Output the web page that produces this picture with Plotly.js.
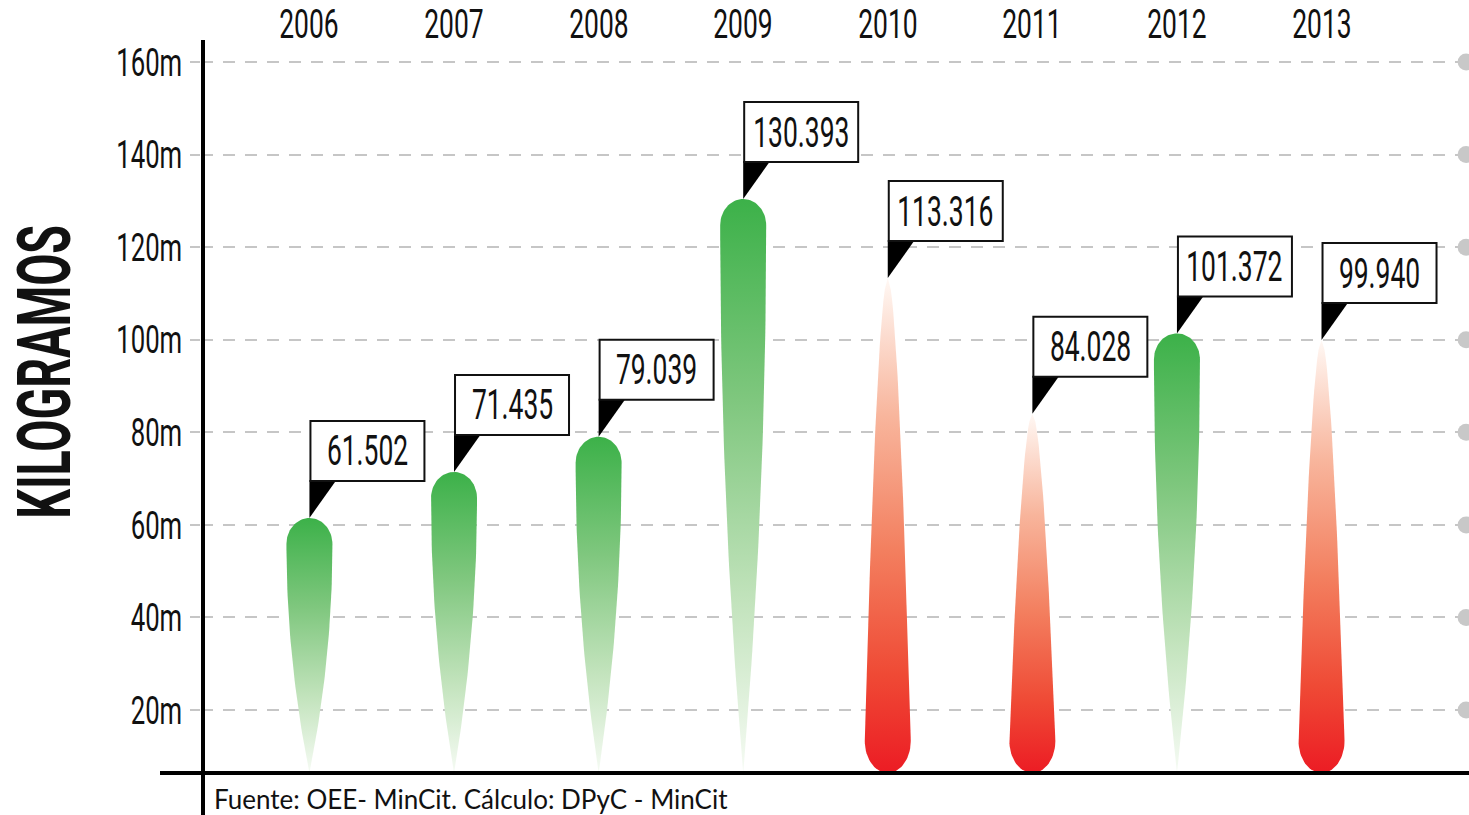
<!DOCTYPE html>
<html>
<head>
<meta charset="utf-8">
<script src="https://cdn.plot.ly/plotly-3.0.1.min.js"></script>
<style>
html, body { margin: 0; padding: 0; background: #ffffff; }
#chart { width: 1469px; height: 815px; }
</style>
</head>
<body>
<div id="chart"></div>
<script>
// ---- data ----
const years = ['2006', '2007', '2008', '2009', '2010', '2011', '2012', '2013'];
const values = [61.502, 71.435, 79.039, 130.393, 113.316, 84.028, 101.372, 99.940]; // millones de kg
const yTickVals = [20, 40, 60, 80, 100, 120, 140, 160];
const yTickSuffix = 'm';
const yTitle = 'KILOGRAMOS';
const sourceText = 'Fuente: OEE- MinCit. Cálculo: DPyC - MinCit';

// ---- layout constants ----
const W = 1469, H = 815;
const M = { l: 201, r: 0, t: 40, b: 42 };
const X_RANGE = [-0.75, 8.02];
const Y_RANGE = [6.4, 164.75];
const plotW = W - M.l - M.r, plotH = H - M.t - M.b;
const dxPx = (X_RANGE[1] - X_RANGE[0]) / plotW;
const dyPx = (Y_RANGE[1] - Y_RANGE[0]) / plotH;
const BASE = Y_RANGE[0];
const FONT = 'Roboto, "Noto Sans", sans-serif';
const SRC_FONT = 'Lato, "Noto Sans", sans-serif';

const GREEN_SCALE = [[0, '#f6fbf4'], [0.3, '#c2e3bc'], [0.65, '#7fc77e'], [1, '#3cb149']];
const RED_SCALE = [[0, '#ec1c24'], [0.2, '#ef4a35'], [0.45, '#f37f5f'], [0.72, '#f8b59c'], [1, '#fff8f4']];

const R = 23;       // half width in px
const N = 40;

function greenDrop(i, v) {
  const Hc = 26;
  const capY = v - Hc * dyPx;
  const xs = [], ys = [];
  for (let k = 0; k <= N; k++) {
    const t = k / N;
    const hw = R * (1 - Math.pow(1 - t, 2));
    xs.push(i - hw * dxPx); ys.push(BASE + t * (capY - BASE));
  }
  for (let k = 1; k < N; k++) {
    const th = Math.PI - Math.PI * k / N;
    xs.push(i + R * Math.cos(th) * dxPx); ys.push(capY + Hc * Math.sin(th) * dyPx);
  }
  for (let k = N; k >= 0; k--) {
    const t = k / N;
    const hw = R * (1 - Math.pow(1 - t, 2));
    xs.push(i + hw * dxPx); ys.push(BASE + t * (capY - BASE));
  }
  return { xs, ys };
}

function redDrop(i, v) {
  const Hc = 32;
  const capY = BASE + Hc * dyPx;
  const xs = [], ys = [];
  for (let k = 0; k <= N; k++) {
    const t = k / N;
    const hw = R * Math.pow(t, 0.55);
    xs.push(i - hw * dxPx); ys.push(v + t * (capY - v));
  }
  for (let k = 1; k < N; k++) {
    const th = Math.PI + Math.PI * k / N;
    xs.push(i + R * Math.cos(th) * dxPx); ys.push(capY + Hc * Math.sin(th) * dyPx);
  }
  for (let k = N; k >= 0; k--) {
    const t = k / N;
    const hw = R * Math.pow(t, 0.55);
    xs.push(i + hw * dxPx); ys.push(v + t * (capY - v));
  }
  return { xs, ys };
}

const traces = [];
const shapes = [];
const annotations = [];
const condenseFactors = [];   // per annotation

values.forEach((v, i) => {
  const up = i === 0 || v >= values[i - 1];
  const d = up ? greenDrop(i, v) : redDrop(i, v);
  traces.push({
    type: 'scatter', mode: 'lines', x: d.xs, y: d.ys,
    fill: 'toself',
    fillcolor: up ? '#6cc06d' : '#f27a5c',
    fillgradient: { type: 'vertical', colorscale: up ? GREEN_SCALE : RED_SCALE },
    line: { width: 0, color: 'rgba(0,0,0,0)' },
    hoverinfo: 'skip', showlegend: false
  });
  // callout pointer
  shapes.push({
    type: 'path', xref: 'x', yref: 'y',
    xsizemode: 'pixel', ysizemode: 'pixel', xanchor: i, yanchor: v,
    path: 'M 0 0 L 0 38 L 27 38 Z',
    fillcolor: '#000000', line: { width: 0 }, layer: 'above'
  });
  // callout box
  shapes.push({
    type: 'rect', xref: 'x', yref: 'y',
    xsizemode: 'pixel', ysizemode: 'pixel', xanchor: i, yanchor: v,
    x0: 1, x1: 115, y0: 37, y1: 97,
    fillcolor: '#ffffff', line: { width: 2, color: '#111111' }, layer: 'above'
  });
  // callout text
  annotations.push({
    x: i, y: v, xref: 'x', yref: 'y',
    xanchor: 'center', yanchor: 'middle', xshift: 58, yshift: 67,
    text: v.toFixed(3), showarrow: false,
    font: { family: FONT, size: 42, color: '#111111' }
  });
  condenseFactors.push(0.63);
});

// year labels on top
years.forEach((y, i) => {
  annotations.push({
    x: i, xref: 'x', yref: 'paper', y: 1 + (40 - 25) / plotH,
    xanchor: 'center', yanchor: 'middle', showarrow: false,
    text: y, font: { family: FONT, size: 40, color: '#111' }
  });
  condenseFactors.push(0.66);
});

// right-edge grid dots
traces.push({
  type: 'scatter', mode: 'markers',
  x: yTickVals.map(() => 8.0), y: yTickVals,
  marker: { size: 17, color: '#c8c8c8' },
  cliponaxis: false, hoverinfo: 'skip', showlegend: false
});

// axis lines
shapes.push({ type: 'line', xref: 'paper', yref: 'paper', x0: -41 / plotW, x1: 1, y0: 0, y1: 0,
  line: { color: '#000', width: 4 }, layer: 'above' });
shapes.push({ type: 'line', xref: 'paper', yref: 'paper', x0: 2 / plotW, x1: 2 / plotW, y0: -M.b / plotH, y1: 1,
  line: { color: '#000', width: 4 }, layer: 'above' });

annotations.push({
  xref: 'paper', yref: 'paper', x: (45 - M.l) / plotW, y: (773 - 372) / plotH,
  xanchor: 'center', yanchor: 'middle', textangle: -90, showarrow: false,
  text: '<b>' + yTitle + '</b>', font: { family: FONT, size: 74, color: '#111' }
});
condenseFactors.push(0.63);
annotations.push({
  xref: 'paper', yref: 'paper', x: (212 - M.l) / plotW, y: -(799 - 773) / plotH,
  xanchor: 'left', yanchor: 'middle', showarrow: false,
  text: sourceText, font: { family: SRC_FONT, size: 26, color: '#111' }
});
condenseFactors.push(1);

const layout = {
  width: W, height: H,
  margin: M,
  paper_bgcolor: '#ffffff', plot_bgcolor: '#ffffff',
  showlegend: false,
  xaxis: {
    range: X_RANGE, showticklabels: false,
    showgrid: false, zeroline: false, showline: false, ticks: '',
    fixedrange: true, automargin: false
  },
  yaxis: {
    range: Y_RANGE,
    tickvals: yTickVals, ticktext: yTickVals.map(v => v + yTickSuffix),
    showgrid: true, gridcolor: '#c6c6c6', gridwidth: 2, griddash: '12px,10px',
    zeroline: false, showline: false,
    ticks: 'outside', ticklen: 10, tickwidth: 2, tickcolor: '#c6c6c6',
    tickfont: { family: FONT, size: 39, color: '#111' },
    fixedrange: true, automargin: false
  },
  shapes, annotations
};

// condensed look: compress glyphs horizontally on real text elements
function condense(el, f) {
  if (!el || !el.getComputedTextLength || f === 1) return;
  const len = el.getComputedTextLength();
  if (len > 0) {
    el.setAttribute('textLength', (len * f).toFixed(2));
    el.setAttribute('lengthAdjust', 'spacingAndGlyphs');
  }
}

Plotly.newPlot('chart', traces, layout, { displayModeBar: false, staticPlot: true }).then(gd => {
  gd.querySelectorAll('.ytick text').forEach(t => condense(t, 0.66));
  gd.querySelectorAll('.annotation').forEach(a => {
    const idx = Number(a.getAttribute('data-index'));
    condense(a.querySelector('text.annotation-text'), condenseFactors[idx]);
  });
});
</script>
</body>
</html>
